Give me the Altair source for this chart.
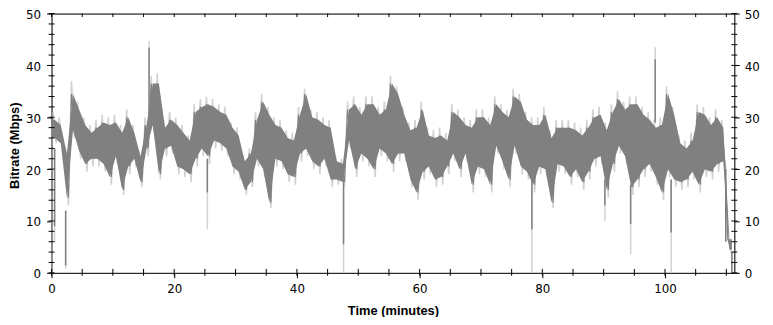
import altair as alt
import pandas as pd

# ---- data (per-minute envelopes, Mbps) ----
minutes = list(range(0, 111))

light_hi = [31, 30, 24, 37, 33, 30, 28.5, 29.5, 30.5, 30,
            30.5, 28.5, 31.5, 28.5, 23.5, 30, 38, 38.5, 29.5, 31,
            30, 28.5, 26.5, 32.5, 33.5, 34, 33.5, 32.5, 32, 29,
            28, 22.5, 24, 31, 34.5, 32, 30, 29.5, 27.5, 27,
            32, 35.5, 31.5, 31, 30, 29.5, 22.5, 22, 33, 34,
            32, 34, 34, 32, 33, 38, 36, 32, 29, 29.5,
            33, 28, 27.5, 28, 27, 32.5, 31.5, 30, 29.5, 31.5,
            31.5, 30, 34, 32.5, 31.5, 35.5, 34.5, 31, 30, 30,
            32, 27.5, 29.5, 29.5, 29.5, 29, 28, 29.5, 31.5, 32,
            29, 32.5, 35, 33, 34, 34, 32, 31, 29.5, 30,
            36, 32, 26.5, 25.5, 27, 32.5, 32, 30, 31.5, 29.5, 7]

light_lo = [25, 24, 13, 26, 22, 19.5, 20.5, 20.5, 19.5, 17,
            21, 15, 19, 20.5, 16.5, 22.5, 27, 18, 22.5, 23,
            19, 18.5, 17.5, 20.5, 22.5, 21, 24, 23.5, 22.5, 19,
            18, 15, 16.5, 20.5, 18.5, 12.5, 20.5, 20, 17.5, 17,
            21.5, 22.5, 20, 19, 20.5, 16.5, 17, 16.5, 24, 18.5,
            21.5, 20.5, 18.5, 22.5, 21.5, 19.5, 21.5, 21.5, 16.5, 14,
            18, 19, 16.5, 17, 19, 21.5, 18.5, 21.5, 15.5, 19,
            18.5, 15.5, 23, 20, 16.5, 23, 19, 18, 15.5, 19,
            18.5, 12.5, 19.5, 19, 17, 18.5, 16, 18, 20.5, 21,
            14.5, 19.5, 23, 21, 15, 16.5, 18.5, 19.5, 17, 14,
            18.5, 16.5, 16, 16.5, 18, 15.5, 18.5, 18, 19.5, 20, 4]

dark_hi = [29.5, 28.5, 23, 34.5, 31.5, 28.5, 27, 28, 29, 28.5,
           29, 27, 30, 27, 22.5, 28.5, 36.5, 36.5, 28, 29.5,
           28.5, 27, 25.5, 31, 32, 32.5, 32, 31, 30.5, 28,
           26.5, 21.5, 23, 29.5, 33, 30.5, 28.5, 28, 26, 25.5,
           30.5, 34.5, 30, 29.5, 28.5, 28, 21.5, 21, 31.5, 32.5,
           30.5, 32.5, 32.5, 30.5, 31.5, 36.5, 34.5, 30.5, 27.5, 28,
           31.5, 26.5, 26, 26.5, 25.5, 31, 30, 28.5, 28, 30,
           30, 28.5, 32.5, 31, 30, 34, 33, 29.5, 28.5, 28.5,
           30.5, 26, 28, 28, 28, 27.5, 26.5, 28, 30, 30.5,
           27.5, 31, 33.5, 31.5, 32.5, 32.5, 30.5, 29.5, 28, 28.5,
           34.5, 30.5, 25, 24, 25.5, 31, 30.5, 28.5, 30, 28, 6.5]

dark_lo = [26, 25, 14.5, 27.5, 23.5, 21, 22, 22, 21, 18.5,
           22.5, 16, 20.5, 22, 17.5, 24, 28.5, 19, 24, 24.5,
           20.5, 20, 19, 22, 24, 22.5, 25.5, 25, 24, 20.5,
           19.5, 16, 17.5, 22, 20, 13.5, 22, 21.5, 19, 18.5,
           23, 24, 21.5, 20.5, 22, 18, 18, 17.5, 25.5, 20,
           23, 22, 20, 24, 23, 21, 23, 23, 18, 15.5,
           19.5, 20.5, 18, 18.5, 20.5, 23, 20, 23, 17, 20.5,
           20, 17, 24.5, 21.5, 18, 24.5, 20.5, 19.5, 17, 20.5,
           20, 13.5, 21, 20.5, 18.5, 20, 17.5, 19.5, 22, 22.5,
           16, 21, 24.5, 22.5, 16.5, 18, 20, 21, 18.5, 15.5,
           20, 18, 17.5, 18, 19.5, 17, 20, 19.5, 21, 21.5, 4.5]

# isolated spikes: time (min), where the spike leaves the band, light tip, dark tip
spike_t = [0.05, 0.5, 2.3, 15.9, 25.4, 47.6, 78.3, 90.2, 94.4, 98.4, 101.0, 109.9, 110.9]
spike_base = [28, 24, 12, 30, 22, 18, 18, 18, 17, 29, 18, 20, 4]
spike_light = [0, 6, 0.8, 44.7, 8.4, 0, 0, 10, 3.6, 43.5, 0, 6, 0]
spike_dark = [0, 9, 1.4, 43.4, 15.5, 5.5, 8.4, 13, 9.4, 41.2, 7.8, 6, 0]

first_t, last_t = 0.05, 110.9

x_major = [0, 20, 40, 60, 80, 100]
x_ticks = list(range(0, 111, 5))
y_major = [0, 10, 20, 30, 40, 50]
y_ticks = list(range(0, 51, 2))


def band(hi, lo):
    n = min(len(minutes), len(hi), len(lo))
    rows = [(first_t, lo[0], hi[0])]
    rows += [(minutes[i] + 0.5, lo[i], hi[i]) for i in range(n)]
    rows.append((last_t, lo[n - 1], hi[n - 1]))
    return pd.DataFrame(rows, columns=["t", "lo", "hi"])


def zigzag(hi, lo):
    n = min(len(minutes), len(hi), len(lo))
    rows = []
    for i in range(n):
        rows.append((minutes[i] + 0.25, hi[i]))
        rows.append((minutes[i] + 0.75, lo[i]))
    return pd.DataFrame(rows, columns=["t", "v"])


dark_df = band(dark_hi, dark_lo)
light_zz = zigzag(light_hi, light_lo)
dark_zz = zigzag(dark_hi, dark_lo)
spikes_df = pd.DataFrame({"t": spike_t, "base": spike_base,
                          "light": spike_light, "dark": spike_dark})

LFONT = "DejaVu Sans"
TFONT = "Liberation Sans"
xs = alt.Scale(domain=[0, 111.3], nice=False, zero=False)
ys = alt.Scale(domain=[0, 50], nice=False, zero=True)

common = dict(grid=False, domainColor="black", tickColor="black",
              labelColor="black", titleColor="black", labelFont=LFONT,
              titleFont=TFONT, labelFontSize=12, titleFontSize=13,
              titleFontWeight="bold", labelFlush=False, labelOverlap=False)

x_bottom = alt.Axis(orient="bottom", values=x_major, tickSize=5, labelPadding=6,
                    title="Time (minutes)", titleX=345, titleY=38,
                    titleBaseline="middle", titleAlign="center", **common)
y_left = alt.Axis(orient="left", values=y_major, tickSize=5, labelPadding=6,
                  labelOffset=1, title="Bitrate (Mbps)", titleX=-37, titleY=133,
                  titleAngle=-90, titleBaseline="middle", titleAlign="center",
                  **common)
x_top = alt.Axis(orient="top", values=x_major, ticks=False, labels=False,
                 title=None, **common)
y_right = alt.Axis(orient="right", values=y_major, tickSize=5, labelPadding=5,
                   labelOffset=1, title=None, **common)

LIGHT = "#d2d2d2"
DARK = "#808080"

light = alt.Chart(light_zz).mark_line(color=LIGHT, strokeWidth=1.6,
                                      strokeJoin="bevel").encode(
    x=alt.X("t:Q", scale=xs, axis=x_bottom),
    y=alt.Y("v:Q", scale=ys, axis=y_left),
    order="t:Q",
)
light_sp = alt.Chart(spikes_df).mark_rule(color=LIGHT, strokeWidth=1.5).encode(
    x=alt.X("t:Q", scale=xs, axis=None),
    y=alt.Y("base:Q", scale=ys, axis=None),
    y2="light:Q",
)
dark = alt.Chart(dark_df).mark_area(color=DARK, opacity=1).encode(
    x=alt.X("t:Q", scale=xs, axis=x_top),
    y=alt.Y("lo:Q", scale=ys, axis=y_right),
    y2="hi:Q",
)
dark_line = alt.Chart(dark_zz).mark_line(color=DARK, strokeWidth=1.2,
                                         strokeJoin="bevel").encode(
    x=alt.X("t:Q", scale=xs, axis=None),
    y=alt.Y("v:Q", scale=ys, axis=None),
    order="t:Q",
)
dark_sp = alt.Chart(spikes_df).mark_rule(color=DARK, strokeWidth=1.5).encode(
    x=alt.X("t:Q", scale=xs, axis=None),
    y=alt.Y("base:Q", scale=ys, axis=None),
    y2="dark:Q",
)

xt_df = pd.DataFrame({"t": x_ticks})
yt_df = pd.DataFrame({"v": y_ticks})

bottom_ticks = alt.Chart(xt_df).mark_rule(color="black").encode(
    x=alt.X("t:Q", scale=xs, axis=None), y=alt.value(258), y2=alt.value(265))
top_ticks = alt.Chart(xt_df).mark_rule(color="black").encode(
    x=alt.X("t:Q", scale=xs, axis=None), y=alt.value(0), y2=alt.value(3.5))
left_ticks = alt.Chart(yt_df).mark_rule(color="black").encode(
    y=alt.Y("v:Q", scale=ys, axis=None), x=alt.value(-3), x2=alt.value(3))
right_ticks = alt.Chart(yt_df).mark_rule(color="black").encode(
    y=alt.Y("v:Q", scale=ys, axis=None), x=alt.value(687), x2=alt.value(693))

chart = alt.layer(light, light_sp, dark, dark_line, dark_sp, bottom_ticks,
                  top_ticks, left_ticks, right_ticks).resolve_axis(
    x="independent", y="independent"
).properties(
    width=690, height=262,
    padding={"left": 44, "top": 4, "right": 31, "bottom": 43},
    autosize=alt.AutoSizeParams(type="none"),
).configure_view(strokeWidth=0).configure(background="white")

chart.save("out.html", embed_options={"renderer": "svg", "actions": False})
